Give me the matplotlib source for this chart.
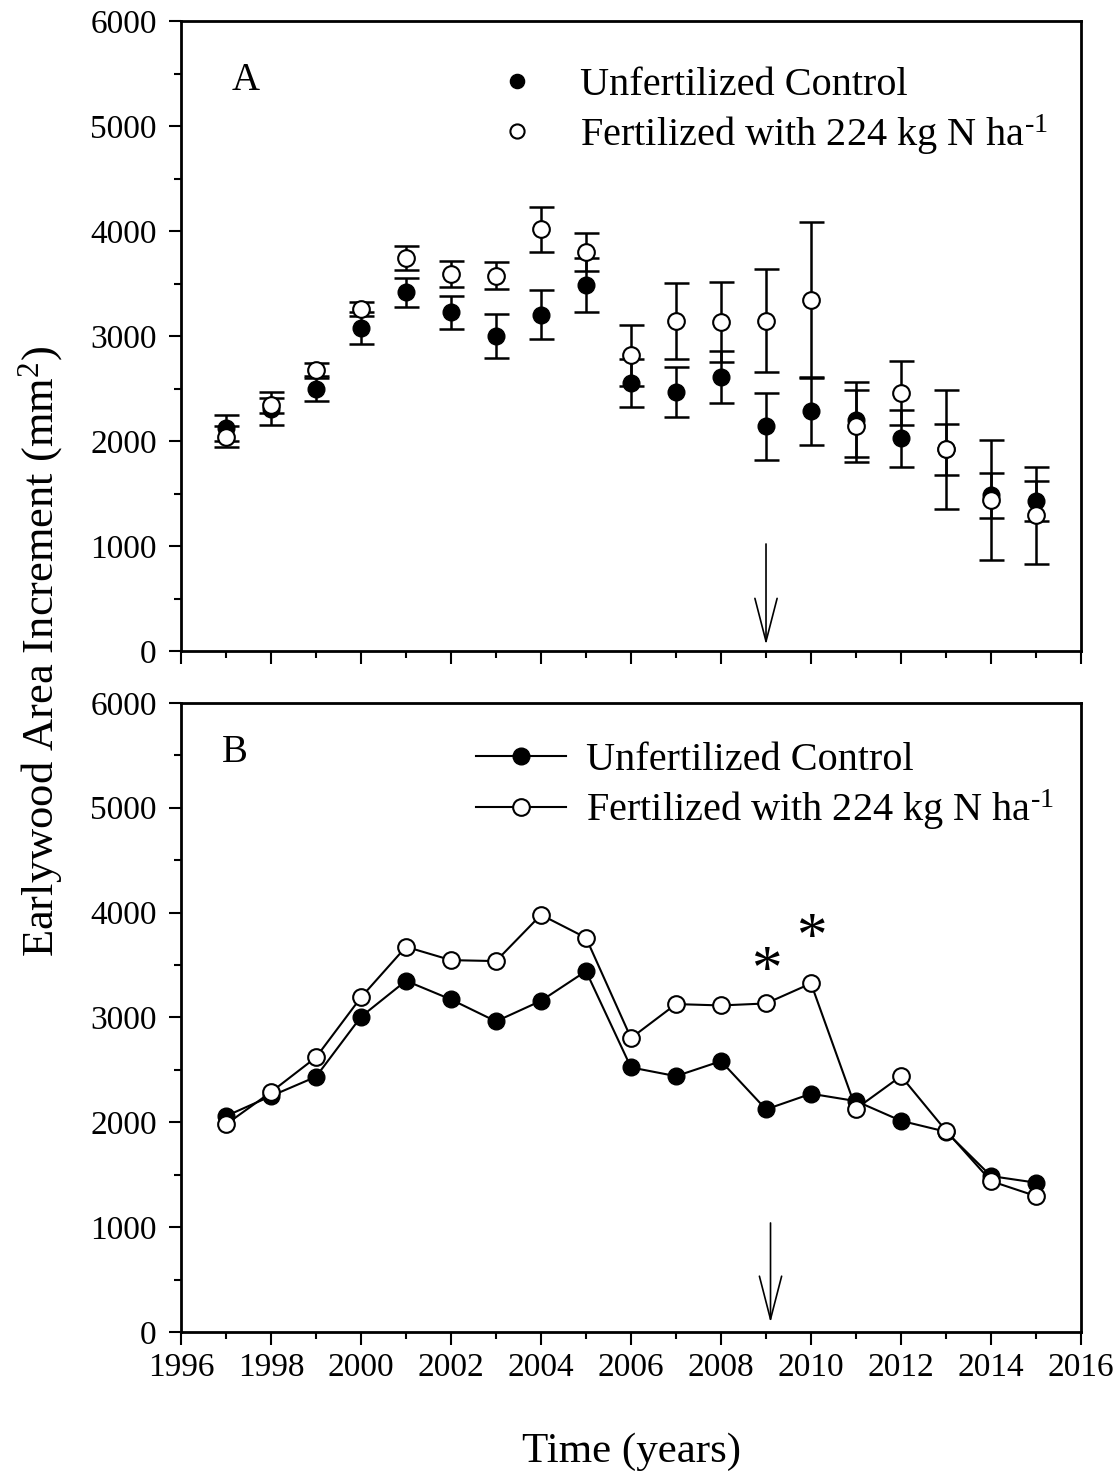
import numpy as np
import matplotlib
matplotlib.use("Agg")
from matplotlib import pyplot as plt
from matplotlib.ticker import MultipleLocator

plt.rcParams['font.family'] = ['Liberation Serif', 'DejaVu Serif']
plt.rcParams['mathtext.fontset'] = 'custom'
plt.rcParams['mathtext.rm'] = 'Liberation Serif'
plt.rcParams['mathtext.it'] = 'Liberation Serif:italic'

years = np.arange(1997, 2016)

# panel A: means and standard errors
ctrl_a = [2125, 2310, 2500, 3075, 3415, 3225, 3000, 3205, 3485, 2555,
          2465, 2610, 2141, 2285, 2202, 2025, 1920, 1484, 1430]
ctrl_a_err = [120, 155, 120, 150, 140, 155, 210, 235, 255, 230,
              240, 245, 319, 322, 357, 270, 245, 214, 189]
fert_a = [2040, 2340, 2675, 3255, 3745, 3590, 3575, 4015, 3800, 2815,
          3145, 3135, 3145, 3343, 2141, 2455, 1923, 1435, 1292]
fert_a_err = [100, 70, 70, 65, 115, 125, 128, 215, 180, 290,
              365, 383, 490, 743, 345, 305, 568, 572, 463]

# panel B: lines
ctrl_b = [2059, 2250, 2434, 3006, 3349, 3171, 2962, 3158, 3441, 2523,
          2440, 2583, 2123, 2272, 2202, 2014, 1910, 1487, 1424]
fert_b = [1980, 2288, 2619, 3191, 3673, 3546, 3537, 3978, 3759, 2803,
          3127, 3114, 3133, 3324, 2129, 2440, 1919, 1439, 1296]

star_years = [2009, 2010]
star_y = [3290, 3600]
fert_year = 2009

lab_ctrl = 'Unfertilized Control'
lab_fert = 'Fertilized with 224 kg N ha$^{\\text{-}1}$'

fig = plt.figure(figsize=(11.2, 14.73), dpi=100)
ax1 = fig.add_axes([0.1616, 0.5580, 0.8036, 0.4277])
ax2 = fig.add_axes([0.1616, 0.0957, 0.8036, 0.4272])

ms = 12
for ax in (ax1, ax2):
    ax.set_xlim(1996, 2016)
    ax.set_ylim(0, 6000)
    ax.xaxis.set_major_locator(MultipleLocator(2))
    ax.xaxis.set_minor_locator(MultipleLocator(1))
    ax.yaxis.set_major_locator(MultipleLocator(1000))
    ax.yaxis.set_minor_locator(MultipleLocator(500))
    ax.tick_params(which='major', direction='out', length=9, width=1.5, labelsize=24)
    ax.tick_params(which='minor', direction='out', length=5, width=1.5)
    ax.tick_params(axis='y', which='major', pad=8.5)
    ax.tick_params(axis='x', which='major', pad=5.5)
    for s in ax.spines.values():
        s.set_linewidth(2)

# panel A
ax1.errorbar(years, ctrl_a, yerr=ctrl_a_err, fmt='none', ecolor='black',
             elinewidth=1.8, capsize=9, capthick=1.8)
ax1.errorbar(years, fert_a, yerr=fert_a_err, fmt='none', ecolor='black',
             elinewidth=1.8, capsize=9, capthick=1.8)
ax1.plot(years, ctrl_a, 'o', color='black', ms=ms, label=lab_ctrl, zorder=3)
ax1.plot(years, fert_a, 'o', mfc='white', mec='black', mew=1.5, ms=ms,
         label=lab_fert, zorder=4)
ax1.tick_params(axis='x', labelbottom=False)
ax1.text(0.072, 0.906, 'A', transform=ax1.transAxes, fontsize=28,
         ha='center', va='center')
ax1.legend(loc='upper left', bbox_to_anchor=(0.32, 0.985), frameon=False,
           fontsize=29, handlelength=0.6, handletextpad=1.25, labelspacing=0.2,
           markerscale=0.85)
ax1.annotate('', xy=(fert_year, 60), xytext=(fert_year, 1020),
             arrowprops=dict(arrowstyle='->,head_length=3.1,head_width=0.8',
                             lw=1.2, color='black', mutation_scale=10,
                             shrinkA=0, shrinkB=0))

# panel B
ax2.plot(years, ctrl_b, '-o', color='black', lw=1.5, ms=ms, label=lab_ctrl, zorder=3)
ax2.plot(years, fert_b, '-o', color='black', mfc='white', mec='black', mew=1.5,
         lw=1.5, ms=ms, label=lab_fert, zorder=4)
for xs, ys in zip(star_years, star_y):
    ax2.text(xs, ys, '*', fontsize=44, ha='center', va='baseline')
ax2.text(0.06, 0.921, 'B', transform=ax2.transAxes, fontsize=28,
         ha='center', va='center')
ax2.legend(loc='upper left', bbox_to_anchor=(0.287, 0.995), frameon=False,
           fontsize=29, handlelength=2.25, handletextpad=0.5, labelspacing=0.2)
ax2.annotate('', xy=(fert_year + 0.1, 90), xytext=(fert_year + 0.1, 1040),
             arrowprops=dict(arrowstyle='->,head_length=3.1,head_width=0.8',
                             lw=1.2, color='black', mutation_scale=10,
                             shrinkA=0, shrinkB=0))
ax2.set_xlabel('Time (years)', fontsize=31, labelpad=36)

fig.text(0.036, 0.558, 'Earlywood Area Increment (mm$^2$)', rotation=90,
         fontsize=32, ha='center', va='center')

fig.savefig('out.png', dpi=100)
